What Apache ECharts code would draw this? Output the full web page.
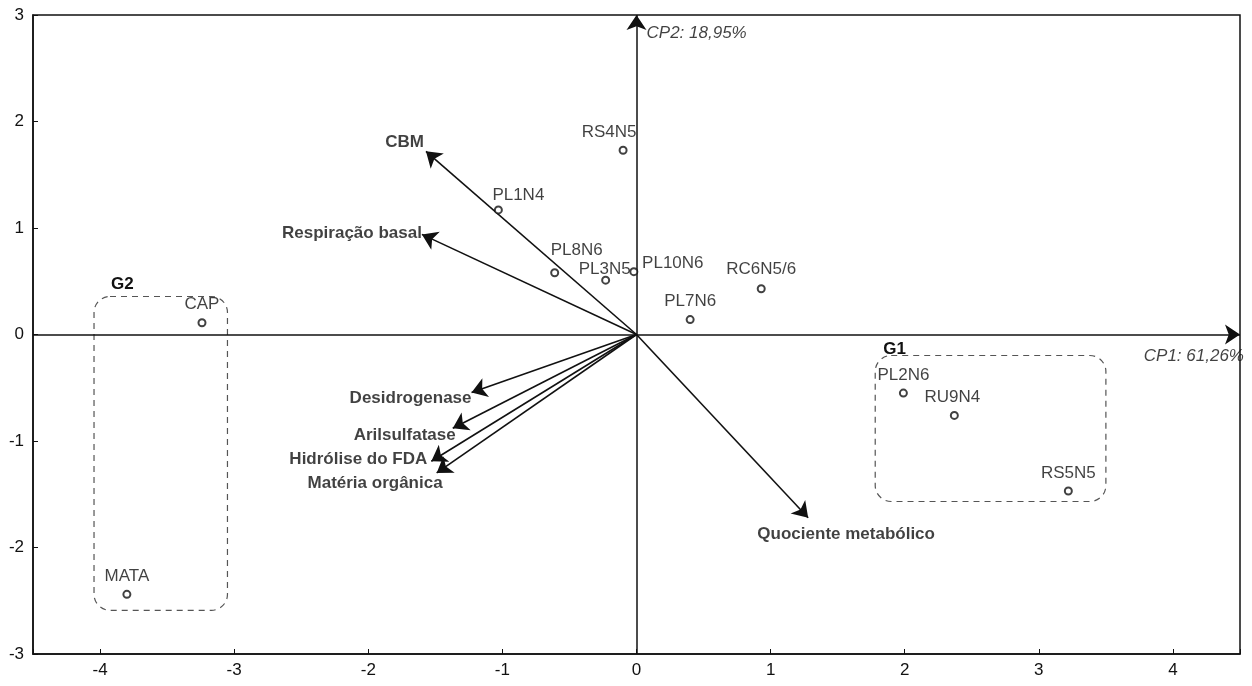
<!DOCTYPE html>
<html>
<head>
<meta charset="utf-8">
<script src="https://cdn.jsdelivr.net/npm/echarts@6/dist/echarts.min.js"></script>
<style>
  html, body { margin: 0; padding: 0; background: #fff; }
  #chart { width: 1252px; height: 686px; }
</style>
</head>
<body>
<div id="chart"></div>
<script>
// sample scores on CP1 / CP2
const sampleNames = ['RS4N5', 'PL1N4', 'PL8N6', 'PL3N5', 'PL10N6', 'PL7N6', 'RC6N5/6', 'CAP', 'MATA', 'PL2N6', 'RU9N4', 'RS5N5'];
const sampleCP1 = [-0.10, -1.03, -0.61, -0.23, -0.02, 0.40, 0.93, -3.24, -3.80, 1.99, 2.37, 3.22];
const sampleCP2 = [1.73, 1.17, 0.58, 0.51, 0.59, 0.14, 0.43, 0.11, -2.44, -0.55, -0.76, -1.47];

// variable vectors (arrow tips)
const varNames = ['CBM', 'Respiração basal', 'Desidrogenase', 'Arilsulfatase', 'Hidrólise do FDA', 'Matéria orgânica', 'Quociente metabólico'];
const varCP1 = [-1.57, -1.60, -1.23, -1.37, -1.53, -1.49, 1.28];
const varCP2 = [1.72, 0.94, -0.545, -0.88, -1.19, -1.30, -1.72];

// groups (dashed boxes): [x1, x2], [y1, y2]
const groupNames = ['G1', 'G2'];
const groupX = [[1.78, 3.50], [-4.045, -3.05]];
const groupY = [[-0.197, -1.568], [0.357, -2.59]];

// axes
const xRange = [-4.5, 4.5];
const yRange = [-3, 3];
const axisTitles = ['CP1: 61,26%', 'CP2: 18,95%'];

const FONT = '"Liberation Sans", Arial, Helvetica, sans-serif';
const INK = '#111';

// the original uses a narrow Helvetica; use Liberation Sans Narrow if it is there
function hasFont(name) {
  const ctx = document.createElement('canvas').getContext('2d');
  ctx.font = '40px monospace';
  const w0 = ctx.measureText('RS4N5 mmmlli').width;
  ctx.font = '40px "' + name + '", monospace';
  return ctx.measureText('RS4N5 mmmlli').width !== w0;
}
const narrow = hasFont('Liberation Sans Narrow');
const LABEL_FONT = narrow ? '"Liberation Sans Narrow", ' + FONT : FONT;
const LABEL_SIZE = narrow ? 20 : 17;

// label placement tweaks (pixels)
const pointLabelOffset = {
  'RS4N5': [-14, 0], 'PL1N4': [20, 3], 'PL8N6': [22, -4], 'PL3N5': [-1, 7],
  'PL10N6': [39, 10], 'RC6N5/6': [0, -1], 'RU9N4': [-2, 0]
};
const varLabelStyle = {
  'CBM': ['left', [0, -9]],
  'Respiração basal': ['left', [2, -1]],
  'Desidrogenase': ['left', [2, 6]],
  'Arilsulfatase': ['left', [5, 7]],
  'Hidrólise do FDA': ['left', [-2, -2]],
  'Matéria orgânica': ['left', [8, 10]],
  'Quociente metabólico': ['inside', [38, 17]]
};
const groupLabelOffset = [[8, -6], [17, -12]];

const chart = echarts.init(document.getElementById('chart'));

const option = {
  animation: false,
  grid: {
    left: 33, right: 12, top: 15, bottom: 32,
    show: true, borderColor: INK, borderWidth: 1.5
  },
  xAxis: {
    type: 'value', min: xRange[0], max: xRange[1],
    splitNumber: 9, minInterval: 1, maxInterval: 1,
    axisLine: { onZero: false, lineStyle: { color: INK, width: 1.5 } },
    axisTick: { inside: true, length: 5, lineStyle: { color: INK } },
    axisLabel: {
      formatter: v => Number.isInteger(v) ? String(v) : '',
      color: INK, fontSize: 17, fontFamily: FONT, margin: 8
    },
    splitLine: { show: false }
  },
  yAxis: {
    type: 'value', min: yRange[0], max: yRange[1], interval: 1,
    axisLine: { onZero: false, lineStyle: { color: INK, width: 1.5 } },
    axisTick: { inside: true, length: 5, lineStyle: { color: INK } },
    axisLabel: { color: INK, fontSize: 17, fontFamily: FONT, margin: 9 },
    splitLine: { show: false }
  },
  series: [
    {
      // CP1 / CP2 axes through the origin
      type: 'lines',
      coordinateSystem: 'cartesian2d',
      symbol: ['none', 'arrow'],
      symbolSize: 15,
      lineStyle: { color: INK, width: 1.5, opacity: 1, curveness: 0 },
      data: [
        { coords: [[xRange[0], 0], [xRange[1], 0]] },
        { coords: [[0, yRange[0]], [0, yRange[1]]] }
      ],
      z: 2
    },
    {
      // variable arrows
      type: 'lines',
      coordinateSystem: 'cartesian2d',
      symbol: ['none', 'arrow'],
      symbolSize: 15,
      lineStyle: { color: INK, width: 1.6, opacity: 1, curveness: 0 },
      data: varNames.map((n, i) => ({ coords: [[0, 0], [varCP1[i], varCP2[i]]] })),
      z: 3
    },
    {
      // variable names
      type: 'scatter',
      symbolSize: 0.1,
      itemStyle: { color: 'transparent' },
      silent: true,
      label: {
        show: true, formatter: '{b}', distance: 2,
        fontSize: 17, fontWeight: 'bold', fontFamily: FONT, color: INK
      },
      data: varNames.map((n, i) => ({
        name: n,
        value: [varCP1[i], varCP2[i]],
        label: { position: varLabelStyle[n][0], offset: varLabelStyle[n][1] }
      })),
      z: 4
    },
    {
      // samples
      type: 'scatter',
      symbol: 'emptyCircle',
      symbolSize: 7,
      itemStyle: { color: INK, borderWidth: 0.8 },
      label: {
        show: true, position: 'top', distance: 5, formatter: '{b}',
        fontSize: LABEL_SIZE, fontFamily: LABEL_FONT, color: INK
      },
      data: sampleNames.map((n, i) => ({
        name: n,
        value: [sampleCP1[i], sampleCP2[i]],
        label: { offset: pointLabelOffset[n] || [0, 0] }
      })),
      z: 5
    },
    {
      // axis titles
      type: 'scatter',
      symbolSize: 0.1,
      itemStyle: { color: 'transparent' },
      silent: true,
      label: {
        show: true, formatter: '{b}', distance: 0,
        fontSize: LABEL_SIZE, fontStyle: 'italic', fontFamily: LABEL_FONT, color: INK
      },
      data: [
        { name: axisTitles[0], value: [xRange[1], 0], label: { position: 'left', offset: [4, 22] } },
        { name: axisTitles[1], value: [0, yRange[1]], label: { position: 'right', offset: [10, 18] } }
      ],
      z: 4
    },
    {
      // group boxes
      type: 'custom',
      coordinateSystem: 'cartesian2d',
      silent: true,
      data: groupNames.map((n, i) => [groupX[i][0], groupY[i][0], groupX[i][1], groupY[i][1]]),
      renderItem: (params, api) => {
        const p1 = api.coord([api.value(0), api.value(1)]);
        const p2 = api.coord([api.value(2), api.value(3)]);
        const x = Math.min(p1[0], p2[0]);
        const y = Math.min(p1[1], p2[1]);
        const off = groupLabelOffset[params.dataIndex];
        return {
          type: 'group',
          children: [
            {
              type: 'rect',
              shape: { x: x, y: y, width: Math.abs(p2[0] - p1[0]), height: Math.abs(p2[1] - p1[1]), r: 16 },
              style: { fill: 'none', stroke: '#555', lineWidth: 1.2, lineDash: [6, 5] }
            },
            {
              type: 'text',
              style: {
                text: groupNames[params.dataIndex],
                x: x + off[0], y: y + off[1],
                verticalAlign: 'middle',
                font: 'bold 17px ' + FONT,
                fill: INK
              }
            }
          ]
        };
      },
      z: 1
    }
  ]
};

chart.setOption(option);
</script>
</body>
</html>
